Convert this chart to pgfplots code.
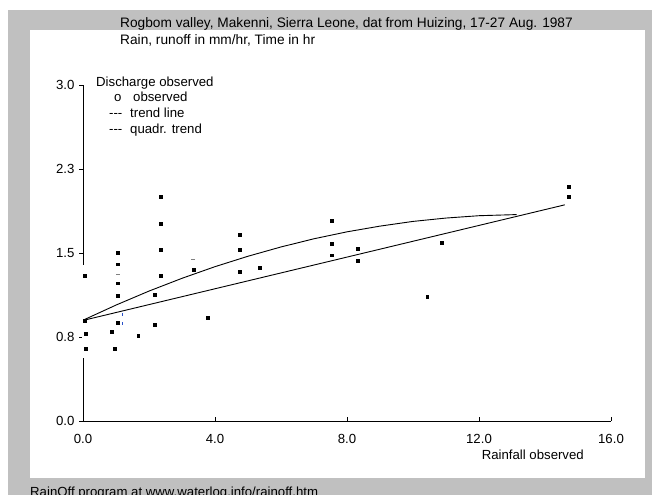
\documentclass[border=0pt]{standalone}
\usepackage{fontspec}
\setmainfont{Liberation Sans}
\usepackage{pgfplots}
\pgfplotsset{compat=1.18}
\definecolor{bggray}{RGB}{192,192,192}
\definecolor{dotblue}{RGB}{40,80,200}

\pgfplotstableread{
x y
0.06 1.30
0.06 0.895
0.08 0.78
0.08 0.645
1.06 1.50
1.06 1.40
1.06 1.23
1.06 1.12
1.06 0.88
0.87 0.795
0.96 0.645
1.67 0.76
2.18 1.125
2.18 0.86
2.36 2.00
2.36 1.765
2.36 1.53
2.36 1.30
3.35 1.35
3.77 0.92
4.76 1.66
4.76 1.53
4.76 1.33
5.35 1.37
7.53 1.785
7.53 1.58
7.53 1.48
8.33 1.54
8.33 1.43
10.43 1.107
10.86 1.59
14.72 2.09
14.72 2.00
}\obsdata

\pgfplotstableread{
x y
0.03 0.900
14.60 1.930
}\lintrend

\pgfplotstableread{
x y
0.03 0.904
1 1.035
2 1.160
3 1.274
4 1.378
5 1.471
6 1.554
7 1.627
8 1.689
9 1.740
10 1.782
11 1.812
12 1.833
13.14 1.843
}\quadtrend

\begin{document}
\fontsize{13.2bp}{15bp}\selectfont
\begin{tikzpicture}
\useasboundingbox (0bp,0bp) rectangle (652bp,495bp);
\fill[white] (0bp,0bp) rectangle (652bp,495bp);
\fill[bggray] (8bp,0bp) rectangle (652bp,485bp);
\fill[white] (30bp,17bp) rectangle (645bp,465bp);
\clip (0bp,0bp) rectangle (652bp,495bp);
\node[anchor=base west, inner sep=0, font=\fontsize{13.7bp}{15bp}\selectfont] at (120bp,467.5bp) {Rogbom valley, Makenni, Sierra Leone, dat from Huizing, 17-27 Aug. 1987};
\node[anchor=base west, inner sep=0, font=\fontsize{13.7bp}{15bp}\selectfont] at (120bp,450bp) {Rain, runoff in mm/hr, Time in hr};
\node[anchor=base west, inner sep=0] at (30bp,-1.5bp) {RainOff program at www.waterlog.info/rainoff.htm};
\node[anchor=base east, inner sep=0] at (584bp,36bp) {Rainfall observed};
\node[anchor=base west, inner sep=0] at (96bp,408.5bp) {Discharge observed};
\node[anchor=base west, inner sep=0] at (114bp,393bp) {o};
\node[anchor=base west, inner sep=0] at (133bp,393bp) {observed};
\node[anchor=base west, inner sep=0] at (109bp,377.5bp) {-{}-{}-};
\node[anchor=base west, inner sep=0] at (130bp,377.5bp) {trend line};
\node[anchor=base west, inner sep=0] at (109bp,361.5bp) {-{}-{}-};
\node[anchor=base west, inner sep=0] at (130bp,361.5bp) {quadr. trend};
\begin{axis}[
  at={(83bp,74bp)}, anchor=south west,
  scale only axis, width=528bp, height=336bp,
  xmin=0, xmax=16, ymin=0, ymax=3,
  axis x line*=bottom, axis y line*=left,
  axis line style={-, black, line width=0.8bp},
  xtick={0,4,8,12,16}, xticklabels={0.0,4.0,8.0,12.0,16.0},
  ytick={0,0.75,1.5,2.25,3}, yticklabels={0.0,0.8,1.5,2.3,3.0},
  xtick align=inside, ytick align=outside,
  major tick length=4bp,
  tick style={black, line width=0.8bp},
  xticklabel style={yshift=-9bp},
  ticklabel style={font=\fontsize{13.2bp}{15bp}\selectfont},
  clip=false,
]
\draw[white, line width=1.6bp] (axis cs:0,0.56) -- (axis cs:0,1.39);
\addplot[only marks, mark=square*, mark size=1.4bp, black] table {\obsdata};
\addplot[only marks, mark=-, mark size=2bp, gray, mark options={line width=0.8bp}] coordinates {(1.06,1.31) (3.34,1.44)};
\addplot[only marks, mark=|, mark size=1.5bp, dotblue, mark options={line width=0.8bp}] coordinates {(1.18,0.95) (1.18,0.87)};
\addplot[black, line width=0.9bp] table {\lintrend};
\addplot[black, line width=0.9bp] table {\quadtrend};
\end{axis}
\end{tikzpicture}
\end{document}
